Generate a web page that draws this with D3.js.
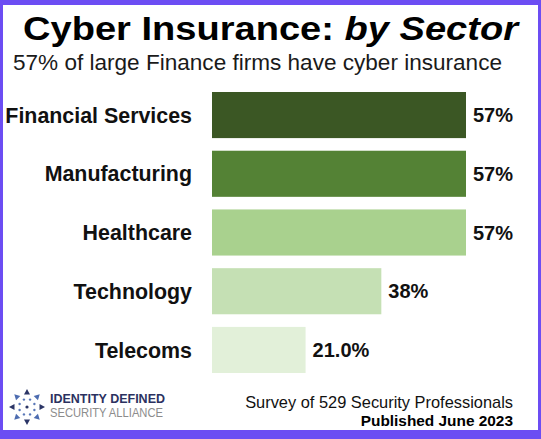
<!DOCTYPE html>
<html>
<head>
<meta charset="utf-8">
<script src="https://cdn.jsdelivr.net/npm/d3@7"></script>
<style>
  html, body { margin: 0; padding: 0; background: #fff; }
  svg { display: block; }
  text { font-family: "Liberation Sans", Arial, Helvetica, sans-serif; }
</style>
</head>
<body>
<svg id="chart" width="541" height="439"></svg>
<script>
const categories = ["Financial Services", "Manufacturing", "Healthcare", "Technology", "Telecoms"];
const values = [57, 57, 57, 38, 21];
const valueLabels = ["57%", "57%", "57%", "38%", "21.0%"];
const barColors = ["#3b5724", "#548235", "#a9d18e", "#c5e0b4", "#e2f0d9"];

const svg = d3.select("#chart");
const W = 541, H = 439;

// frame
svg.append("rect").attr("x", 0).attr("y", 0).attr("width", W).attr("height", H).attr("fill", "#6c4df3");
svg.append("rect").attr("x", 3).attr("y", 5).attr("width", 535).attr("height", 425).attr("fill", "#ffffff");

// title
const title = svg.append("text").attr("x", 23).attr("y", 40)
  .attr("font-size", 34).attr("font-weight", "bold").attr("fill", "#000")
  .attr("textLength", 495).attr("lengthAdjust", "spacingAndGlyphs");
title.append("tspan").text("Cyber Insurance: ");
title.append("tspan").attr("font-style", "italic").text("by Sector");

svg.append("text").attr("x", 13).attr("y", 70)
  .attr("font-size", 22.5).attr("fill", "#1a1a1a")
  .attr("textLength", 489).attr("lengthAdjust", "spacingAndGlyphs")
  .text("57% of large Finance firms have cyber insurance");

// scales
const y = d3.scaleBand().domain(categories).range([92, 373]).paddingInner(0.215).paddingOuter(0);
const x = d3.scaleLinear().domain([0, 57]).range([212, 466]);

const g = svg.append("g");
g.selectAll("rect.bar").data(categories).join("rect")
  .attr("class", "bar")
  .attr("x", x(0))
  .attr("y", d => y(d))
  .attr("width", (d, i) => x(values[i]) - x(0))
  .attr("height", y.bandwidth())
  .attr("fill", (d, i) => barColors[i]);

// category labels (axis)
const yAxis = d3.axisLeft(y).tickSize(0).tickPadding(0);
const axisG = svg.append("g").attr("transform", "translate(192,0)").call(yAxis);
axisG.select(".domain").remove();
axisG.selectAll("text")
  .attr("font-family", "'Liberation Sans', Arial, sans-serif")
  .attr("font-size", 21.4).attr("font-weight", "bold").attr("fill", "#111")
  .attr("dy", "0.36em");

// value labels
g.selectAll("text.val").data(categories).join("text")
  .attr("class", "val")
  .attr("x", (d, i) => x(values[i]) + 7)
  .attr("y", d => y(d) + y.bandwidth() / 2)
  .attr("dy", "0.36em")
  .attr("font-size", 20).attr("font-weight", "bold").attr("fill", "#111")
  .text((d, i) => valueLabels[i]);

// footer
svg.append("text").attr("x", 513).attr("y", 408).attr("text-anchor", "end")
  .attr("font-size", 16.4).attr("fill", "#111")
  .text("Survey of 529 Security Professionals");
svg.append("text").attr("x", 513).attr("y", 426).attr("text-anchor", "end")
  .attr("font-size", 15.4).attr("font-weight", "bold").attr("fill", "#000")
  .text("Published June 2023");

// logo
const logo = svg.append("g").attr("transform", "translate(27,407)");
const outerN = 8;
for (let i = 0; i < outerN; i++) {
  const a = i * 2 * Math.PI / outerN - Math.PI / 2;
  const r = 15;
  const cx = r * Math.cos(a), cy = r * Math.sin(a);
  const col = (i % 2 === 0) ? "#2b3566" : "#4d6cb0";
  logo.append("path")
    .attr("d", "M-3,-2.5 L3,-2.5 L0,3 Z")
    .attr("transform", `translate(${cx},${cy}) rotate(${a * 180 / Math.PI + 90 + 180})`)
    .attr("fill", col);
}
for (let i = 0; i < 8; i++) {
  const a = i * 2 * Math.PI / 8 - Math.PI / 2 + Math.PI / 8;
  const r = 8;
  logo.append("circle").attr("cx", r * Math.cos(a)).attr("cy", r * Math.sin(a)).attr("r", 1.2)
    .attr("fill", "#5a78b8");
}
logo.append("circle").attr("cx", 0).attr("cy", 0).attr("r", 1.6).attr("fill", "#2b3566");

svg.append("text").attr("x", 50).attr("y", 403)
  .attr("font-family", "'Open Sans', sans-serif")
  .attr("font-size", 13).attr("font-weight", "bold").attr("fill", "#2b3160")
  .attr("textLength", 115).attr("lengthAdjust", "spacingAndGlyphs")
  .text("IDENTITY DEFINED");
svg.append("text").attr("x", 50).attr("y", 417)
  .attr("font-family", "'Open Sans', sans-serif")
  .attr("font-size", 13).attr("fill", "#8c8c8c")
  .attr("textLength", 113).attr("lengthAdjust", "spacingAndGlyphs")
  .text("SECURITY ALLIANCE");
</script>
</body>
</html>
